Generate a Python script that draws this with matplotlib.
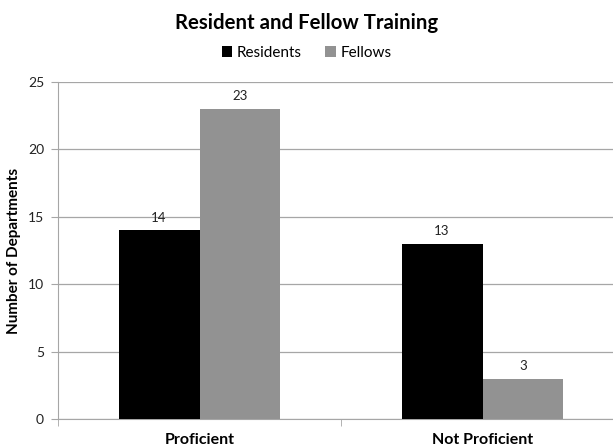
import matplotlib
matplotlib.use("Agg")
import matplotlib.pyplot as plt
import numpy as np

categories = ["Proficient", "Not Proficient"]
series_names = ["Residents", "Fellows"]
residents = [14, 13]
fellows = [23, 3]
yticks = [0, 5, 10, 15, 20, 25]

plt.rcParams['font.family'] = ['Lato', 'DejaVu Sans']

fig = plt.figure(figsize=(6.13, 4.48), dpi=100)
ax = fig.add_axes([58/613, 29/448, 566/613, 337/448])

x = np.arange(len(categories))
w = 0.286
grid_c = '#a6a6a6'
b1 = ax.bar(x - w/2, residents, w, color='black', label=series_names[0], zorder=3)
b2 = ax.bar(x + w/2, fellows, w, color='#929292', label=series_names[1], zorder=3)
for bars in (b1, b2):
    for r in bars:
        ax.text(r.get_x() + r.get_width()/2, r.get_height() + 0.5, f"{int(r.get_height())}",
                ha='center', va='bottom', fontsize=9.5, color='#222222')

ax.set_xlim(-0.5, len(categories) - 0.5)
ax.set_ylim(0, 25)
ax.set_yticks(yticks)
ax.yaxis.grid(True, color=grid_c, linewidth=0.9, zorder=0)
ax.set_axisbelow(True)
for s in ['top', 'right']:
    ax.spines[s].set_visible(False)
ax.spines['left'].set_color(grid_c)
ax.spines['bottom'].set_color(grid_c)
ax.set_xticks(x)
ax.set_xticklabels(categories, fontsize=11.5, fontweight='bold')
ax.tick_params(axis='x', length=0, pad=10)
ax.set_xticks([-0.5, 0.5, 1.5], minor=True)
ax.tick_params(axis='x', which='minor', length=5, color=grid_c)
ax.tick_params(axis='y', length=5, color=grid_c, labelsize=10, pad=5, labelcolor='#222222')
ax.set_ylabel("Number of Departments", fontsize=11, fontweight='bold')
ax.yaxis.set_label_coords(-(58 - 21) / 566, 0.5)

fig.text(0.5, 1 - 23/448, "Resident and Fellow Training", ha='center', va='center',
         fontsize=14.7, fontweight='bold')
fig.legend(handles=[b1, b2], loc='center', bbox_to_anchor=(0.5, 1 - 53/448), ncol=2,
           frameon=False, fontsize=11, handlelength=0.7, handleheight=0.7,
           handletextpad=0.3, columnspacing=1.5)

fig.savefig("out.png", dpi=100)
